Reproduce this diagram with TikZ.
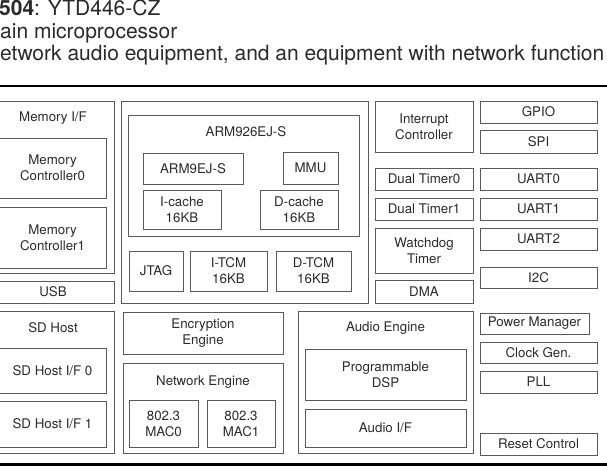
\documentclass[tikz,border=0pt]{standalone}
\usepackage{fontspec}
\setmainfont{TeX Gyre Heros}
\definecolor{boxgray}{HTML}{5A5A5A}
\definecolor{txtgray}{HTML}{2A2A2A}

\begin{document}
\begin{tikzpicture}[x=1pt,y=-1pt,
  every node/.style={font=\fontsize{13.3}{16}\selectfont,text=txtgray},
  blk/.style={draw=boxgray,line width=0.9pt,inner sep=0pt,outer sep=0pt,align=center},
  wh/.style 2 args={minimum width=#1pt,minimum height=#2pt},
  head/.style={anchor=base west,inner sep=0pt,font=\fontsize{21}{24}\selectfont}]
  \useasboundingbox (0,0) rectangle (607,468);
  \clip (0,0) rectangle (607,468);

  % header
  \node[head] (title) at (-1,16) {\textbf{504}: YTD446-CZ};
  \node[head] (kind) at (0,38.5) {ain microprocessor};
  \node[head] (use) at (0,61) {etwork audio equipment, and an equipment with network function};
  \draw[line width=2pt] (0,86.5) -- (607,86.5);
  \draw[line width=3pt] (0,464) -- (607,464);

  % memory and SD host
  \node[blk,wh={122}{172}] (memif) at (53,187) {};
  \node (memiflbl) at (53,118) {Memory I/F};
  \node[blk,wh={107}{60}] (memc0) at (52.5,168) {Memory\\Controller0};
  \node[blk,wh={107}{61}] (memc1) at (52.5,237.5) {Memory\\Controller1};
  \node[blk,wh={122}{22}] (usb) at (53,292) {USB};
  \node[blk,wh={122}{142}] (sdhost) at (53,382) {};
  \node (sdhostlbl) at (53,328) {SD Host};
  \node[blk,wh={107}{45}] (sdif0) at (52.5,370.5) {SD Host I/F 0};
  \node[blk,wh={107}{46}] (sdif1) at (52.5,424) {SD Host I/F 1};

  % CPU core
  \node[blk,wh={247}{202}] (cpu) at (244.5,202) {};
  \node[blk,wh={231}{121}] (arm926) at (243.5,175.5) {};
  \node (arm926lbl) at (246,132) {ARM926EJ-S};
  \node[blk,wh={100}{31}] (arm9) at (193,168.5) {ARM9EJ-S};
  \node[blk,wh={55}{32}] (mmu) at (310.5,168) {MMU};
  \node[blk,wh={78}{39}] (icache) at (182,209.5) {I-cache\\16KB};
  \node[blk,wh={78}{39}] (dcache) at (299,209.5) {D-cache\\16KB};
  \node[blk,wh={54}{40}] (jtag) at (156,271) {JTAG};
  \node[blk,wh={77}{40}] (itcm) at (228.5,271) {I-TCM\\16KB};
  \node[blk,wh={75}{40}] (dtcm) at (313.5,271) {D-TCM\\16KB};

  % system blocks
  \node[blk,wh={98}{51}] (intc) at (424,126.5) {Interrupt\\Controller};
  \node[blk,wh={98}{22}] (dtimer0) at (424,179) {Dual Timer0};
  \node[blk,wh={98}{22}] (dtimer1) at (424,209) {Dual Timer1};
  \node[blk,wh={98}{45}] (wdt) at (424,250.5) {Watchdog\\Timer};
  \node[blk,wh={98}{23}] (dma) at (424,291.5) {DMA};

  % peripherals
  \node[blk,wh={117}{22}] (gpio) at (538.5,112) {GPIO};
  \node[blk,wh={117}{23}] (spi) at (538.5,141.5) {SPI};
  \node[blk,wh={117}{22}] (uart0) at (538.5,179) {UART0};
  \node[blk,wh={117}{22}] (uart1) at (538.5,209) {UART1};
  \node[blk,wh={117}{22}] (uart2) at (538.5,239) {UART2};
  \node[blk,wh={117}{21}] (i2c) at (538.5,277.5) {I2C};

  % engines
  \node[blk,wh={160}{42}] (crypt) at (203,333) {Encryption\\Engine};
  \node[blk,wh={160}{90}] (neteng) at (203,408) {};
  \node (netlbl) at (203,382) {Network Engine};
  \node[blk,wh={69}{47}] (mac0) at (163.5,423.5) {802.3\\MAC0};
  \node[blk,wh={68}{47}] (mac1) at (241,423.5) {802.3\\MAC1};
  \node[blk,wh={175}{142}] (audio) at (385.5,382) {};
  \node (audiolbl) at (385.5,328) {Audio Engine};
  \node[blk,wh={161}{51}] (dsp) at (385.5,374.5) {Programmable\\DSP};
  \node[blk,wh={161}{38}] (audioif) at (385.5,428) {Audio I/F};

  % power and clock
  \node[blk,wh={109}{21}] (pwr) at (534.5,323.5) {Power Manager};
  \node[blk,wh={117}{21}] (clkgen) at (538.5,352.5) {Clock Gen.};
  \node[blk,wh={117}{22}] (pll) at (538.5,382) {PLL};
  \node[blk,wh={117}{22}] (rst) at (538.5,444) {Reset Control};
\end{tikzpicture}
\end{document}
